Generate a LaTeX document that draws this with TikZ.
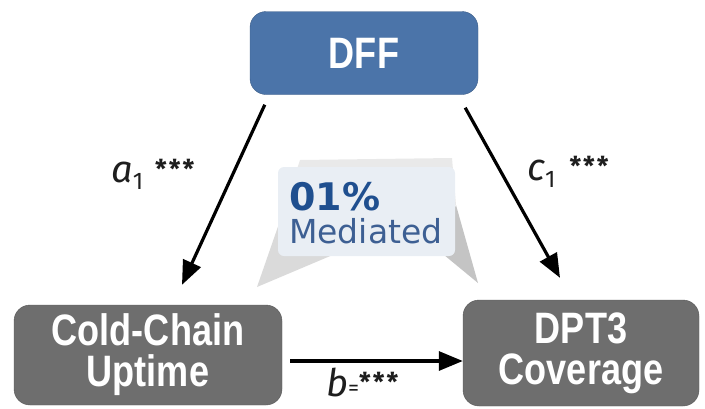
\documentclass[tikz,border=0pt]{standalone}
\usepackage{fontspec}
\usetikzlibrary{arrows.meta,positioning}
\newfontfamily\condfont[FakeStretch=0.82]{Liberation Sans}
\newfontfamily\labfont{Fira Sans}
\newfontfamily\calfont{DejaVu Sans}
\definecolor{dffblue}{HTML}{4B74A9}
\definecolor{boxgray}{HTML}{6E6E6E}
\definecolor{numblue}{HTML}{1F4F8F}
\definecolor{medblue}{HTML}{3D5F93}
\definecolor{bubblefill}{HTML}{E9EEF4}
\definecolor{tailgray}{HTML}{DADADA}
\definecolor{labink}{HTML}{1E1E1E}
\newcommand{\starsx}{{\fontsize{26}{26}\selectfont\upshape\bfseries *\kern2pt*\kern2pt*}}
\tikzset{
  boxstyle/.style={rounded corners=16pt, text=white, align=center,
    font=\condfont\bfseries\fontsize{44}{41}\selectfont, inner sep=0pt},
  arr/.style={line width=3.2pt, -{Triangle[length=24pt,width=19pt]}},
  lab/.style={font=\labfont\itshape\fontsize{38}{38}\selectfont, inner sep=0pt, text=labink}
}
\begin{document}
\begin{tikzpicture}[x=1pt,y=-1pt]
\useasboundingbox (0,0) rectangle (705,408);
% callout
\fill[tailgray!60] (300,160) -- (452,158) -- (456,205) -- (282,215) -- cycle;
\fill[tailgray] (282,215) -- (257,287) -- (335,254) -- cycle;
\fill[tailgray!90!black] (438,250) -- (478,283) -- (456,205) -- cycle;
\fill[bubblefill, rounded corners=6pt] (278,167) rectangle (455,256);
\node[anchor=base west, inner sep=0pt, text=numblue, font=\calfont\bfseries\fontsize{38}{38}\selectfont] (pct) at (289,210) {01\%};
\node[anchor=base west, inner sep=0pt, text=medblue, font=\calfont\fontsize{33}{33}\selectfont] (med) at (289,243) {Mediated};
% boxes
\node[boxstyle, fill=dffblue, draw=dffblue!80!black, minimum width=228pt, minimum height=83pt] (dff) at (364,53) {DFF};
\node[boxstyle, fill=boxgray, draw=boxgray!80!black, minimum width=268pt, minimum height=100pt] (ccu) at (148,355) {Cold-Chain\\Uptime};
\node[boxstyle, fill=boxgray, draw=boxgray!80!black, minimum width=236pt, minimum height=106pt] (dpt) at (581,353) {DPT3\\Coverage};
% arrows
\draw[arr] ([xshift=15pt,yshift=-10pt]dff.south west) -- ([xshift=34pt,yshift=20pt]ccu.north);
\draw[arr] ([xshift=-13pt,yshift=-13pt]dff.south east) -- ([xshift=-21pt,yshift=22pt]dpt.north);
\draw[arr] ([xshift=8pt,yshift=-6pt]ccu.east) -- ([yshift=-8pt]dpt.west);
% labels
\node[lab, anchor=base west] (la) at (111,182) {a\raisebox{-7pt}{\fontsize{24}{24}\selectfont\upshape 1}\hspace{12pt}\raisebox{4pt}{\starsx}};
\node[lab, anchor=base west] (lc) at (527,180) {c\raisebox{-7pt}{\fontsize{24}{24}\selectfont\upshape 1}\hspace{14pt}\raisebox{5pt}{\starsx}};
\node[lab, anchor=base west] (lb) at (326,396) {b\raisebox{1pt}{\fontsize{22}{22}\selectfont\upshape =}\raisebox{5pt}{\starsx}};
\end{tikzpicture}
\end{document}
